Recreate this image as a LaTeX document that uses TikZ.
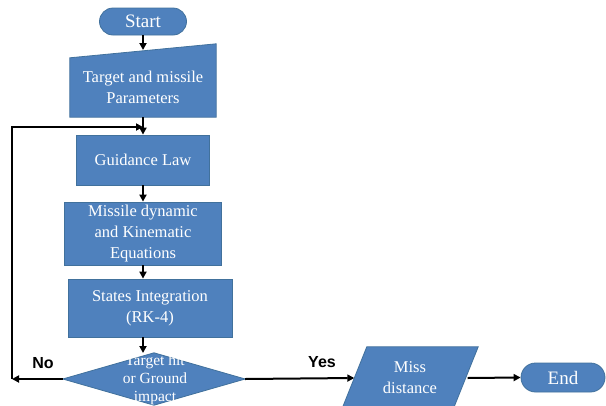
\documentclass[tikz,border=0pt]{standalone}
\usepackage{fontspec}
\setmainfont{Liberation Serif}
\newfontfamily\labelfont{Liberation Sans}
\usetikzlibrary{arrows.meta,backgrounds}
\definecolor{boxblue}{HTML}{4F81BD}
\definecolor{boxedge}{HTML}{41719C}
\begin{document}
\begin{tikzpicture}[x=1pt,y=-1pt,
  shapefill/.style={draw=boxedge, fill=boxblue, line width=0.8pt},
  box/.style={shapefill, text=white, align=center, inner sep=0pt, font=\fontsize{16.5}{21}\selectfont},
  txt/.style={text=white, align=center, inner sep=0pt, font=\fontsize{16.5}{21}\selectfont},
  term/.style={box, rounded corners=13.5pt, font=\fontsize{19}{22}\selectfont},
  flow/.style={line width=2pt, -{Triangle[length=7pt,width=7pt]}},
  lab/.style={font=\labelfont\bfseries\fontsize{16}{18}\selectfont, inner sep=0pt}]
\useasboundingbox (0,0) rectangle (606,405);

\node[term, minimum width=87pt, minimum height=27pt] (start) at (143,21.5) {Start};
\node[txt, minimum width=146pt, minimum height=59pt] (inp) at (143,87.5) {Target and missile\\Parameters};
\node[box, minimum width=133pt, minimum height=50pt] (guid) at (143,160) {Guidance Law};
\node[box, minimum width=157pt, minimum height=63pt] (mis) at (143,233.5) {Missile dynamic\\and Kinematic\\Equations};
\node[box, minimum width=164pt, minimum height=58pt] (stat) at (150,308) {States Integration\\(RK-4)};
\node[minimum width=182pt, minimum height=52pt, inner sep=0pt] (dec) at (154,379) {};
\node[txt, font=\fontsize{15.5}{18}\selectfont] (dectext) at (155,380) {Target hit\\or Ground\\impact};
\node[txt, minimum width=111pt, minimum height=62pt] (miss) at (410,378) {Miss\\distance};
\node[term, rounded corners=14.5pt, minimum width=84pt, minimum height=29pt] (end) at (563,377.5) {End};

\begin{pgfonlayer}{background}
  \path[shapefill] (inp.south west) -- (inp.south east) -- ([yshift=14pt]inp.north east) -- (inp.north west) -- cycle;
  \path[shapefill] (dec.west) -- (dec.north) -- (dec.east) -- (dec.south) -- cycle;
  \path[shapefill] ([xshift=12.5pt]miss.north west) -- ([xshift=12.5pt]miss.north east) -- ([xshift=-12.5pt]miss.south east) -- ([xshift=-12.5pt]miss.south west) -- cycle;
\end{pgfonlayer}

\coordinate (inpin) at (143,50);
\coordinate (decin) at (143,353);
\coordinate (cornerB) at (12,379);
\coordinate (cornerT) at (12,127);
\coordinate (loopin) at (143,127);

\draw[flow] (start.south) -- (inpin);
\draw[flow] (inp.south) -- (guid.north);
\draw[flow] (guid.south) -- (mis.north);
\draw[flow] (mis.south) -- (mis.south |- stat.north);
\draw[flow] (stat.south -| mis.south) -- (decin);
\draw[flow] (dec.west) -- (cornerB);
\draw[flow] (cornerB) -- (cornerT) -- (loopin);
\draw[flow] (dec.east) -- (miss.west);
\draw[flow] ([xshift=2pt]miss.east) -- (end.west);

\node[lab] (no) at (43,363) {No};
\node[lab] (yes) at (322,362) {Yes};
\end{tikzpicture}
\end{document}
